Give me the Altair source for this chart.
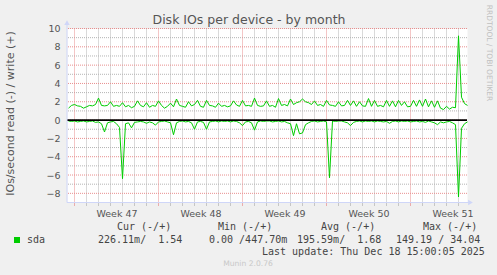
import altair as alt
import pandas as pd

# time axis: days since Sun 16 Nov 2025 00:00, one sample every 6 hours
t_days = [-0.5 + 0.25 * i for i in range(134)]

write_vals = [
    1.3, 1.6, 1.7, 1.55, 1.5, 1.3, 1.45, 1.6, 1.55, 1.7,
    2.4, 1.6, 1.55, 1.6, 2.0, 1.5, 1.6, 1.5, 1.9, 1.45,
    1.6, 1.35, 1.5, 2.1, 1.6, 1.45, 1.9, 1.4, 1.6, 1.5,
    2.1, 1.6, 1.3, 1.5, 1.85, 1.45, 2.3, 1.6, 1.5, 1.4,
    2.0, 1.55, 1.7, 2.15, 1.5, 1.4, 2.15, 1.6, 1.55, 1.4,
    1.85, 1.5, 1.6, 1.45, 1.55, 2.1, 1.65, 1.5, 2.15, 1.55,
    1.6, 1.5, 2.4, 1.6, 1.5, 1.55, 2.1, 1.5, 1.6, 1.4,
    2.35, 1.6, 1.7, 1.55, 2.3, 1.7, 1.9, 2.0, 2.3, 2.0,
    1.9, 1.7, 2.1, 1.6, 1.7, 1.5, 2.15, 1.65, 1.6, 1.5,
    2.0, 1.55, 1.6, 2.15, 1.6, 2.1, 1.5, 2.0, 1.55, 1.5,
    2.35, 1.5, 2.15, 1.5, 1.6, 1.45, 2.15, 1.5, 2.1, 1.45,
    2.15, 1.6, 2.0, 1.45, 1.5, 2.15, 1.5, 2.2, 1.5, 2.3,
    1.45, 2.1, 1.4, 2.1, 1.3, 1.15, 1.5, 1.2, 1.4, 1.35,
    9.2, 2.5, 1.8, 1.6,
]

read_vals = [
    -0.1, -0.15, -0.1, -0.2, -0.15, -0.1, -0.2, -0.15, -0.1, -0.25,
    -0.2, -0.4, -1.3, -0.3, -0.2, -0.15, -0.4, -0.8, -6.4, -0.4,
    -0.3, -0.85, -0.25, -0.2, -0.15, -0.2, -0.35, -0.2, -0.3, -0.55,
    -0.2, -0.15, -0.1, -0.2, -0.3, -1.6, -0.3, -0.15, -0.1, -0.2,
    -0.15, -0.3, -1.0, -0.2, -0.15, -0.25, -1.0, -0.2, -0.15, -0.1,
    -0.2, -0.1, -0.15, -0.1, -0.2, -0.1, -0.15, -0.3, -0.6, -0.2,
    -0.15, -0.3, -1.1, -0.2, -0.1, -0.15, -0.1, -0.1, -0.2, -0.15,
    -0.1, -0.2, -0.15, -0.3, -0.4, -1.7, -0.4, -1.5, -1.4, -0.5,
    -0.3, -0.15, -0.1, -0.2, -0.15, -0.1, -0.2, -6.3, -0.1, -0.15,
    -0.1, -0.1, -0.2, -0.3, -0.6, -0.25, -0.15, -0.1, -0.2, -0.1,
    -0.15, -0.1, -0.2, -0.1, -0.15, -0.2, -0.15, -0.35, -0.15, -0.1,
    -0.2, -0.1, -0.15, -0.1, -0.2, -0.15, -0.1, -0.2, -0.15, -0.25,
    -0.1, -0.2, -0.3, -0.5, -0.2, -0.3, -0.2, -0.15, -0.3, -0.5,
    -8.4, -0.9, -0.4, -0.2,
]

week_starts = [0, 7, 14, 21, 28]
day_lines = [d for d in range(0, 33) if d % 7 != 0]
week_label_pos = [3.5, 10.5, 17.5, 24.5, 31.5]
y_major = [-8, -6, -4, -2, 0, 2, 4, 6, 8, 10]
y_minor = [-7, -5, -3, -1, 1, 3, 5, 7, 9]

title_text = "Disk IOs per device - by month"
y_title = "IOs/second read (-) / write (+)"
side_text = "RRDTOOL / TOBI OETIKER"
series_name = "sda"
col_headers = ["Cur (-/+)", "Min (-/+)", "Avg (-/+)", "Max (-/+)"]
col_values = ["226.11m/  1.54", "0.00 /447.70m", "195.59m/  1.68", "149.19 / 34.04"]
last_update = "Last update: Thu Dec 18 15:00:05 2025"
munin_ver = "Munin 2.0.76"

X_MIN = -0.625
X_MAX = X_MIN + 400 / 12
Y_MIN, Y_MAX = -9, 10

df = pd.DataFrame({
    "t": t_days * 2,
    "v": write_vals + read_vals,
    "s": ["write"] * len(t_days) + ["read"] * len(t_days),
})

xs = alt.Scale(domain=[X_MIN, X_MAX], nice=False, zero=False)
ys = alt.Scale(domain=[Y_MIN, Y_MAX], nice=False, zero=False)

GREEN = "#00CC00"
AXISC = "#CFD6F8"
GRID = "#b4b4b4"
MGRID = "#e88e8e"
FONT = "DejaVu Sans"
MONO = "DejaVu Sans Mono"
one = pd.DataFrame({"k": [0]})

XA = alt.Axis(
    values=week_label_pos,
    labelExpr="'Week ' + (47 + round((datum.value - 3.5) / 7))",
    grid=False, ticks=False, domain=False, labelPadding=6, title=None,
    labelFont=FONT, labelFontSize=9.5, labelColor="#555555")
YA = alt.Axis(
    values=y_major, grid=False, ticks=False, domain=False, title=None,
    labelPadding=7, labelFont=FONT, labelFontSize=9.5, labelColor="#555555")

def X(field):
    return alt.X(field, scale=xs, axis=XA, title=None)

def Y(field):
    return alt.Y(field, scale=ys, axis=YA, title=None)

def XD(v):
    return alt.XDatum(v, scale=xs, axis=XA, title=None, type="quantitative")

def YD(v):
    return alt.YDatum(v, scale=ys, axis=YA, title=None, type="quantitative")

def hgrid(vals, color):
    return alt.Chart(pd.DataFrame({"y": vals})).mark_rule(
        color=color, strokeDash=[1, 1], strokeWidth=1
    ).encode(y=Y("y:Q"))

def vgrid(vals, color):
    return alt.Chart(pd.DataFrame({"x": vals})).mark_rule(
        color=color, strokeDash=[1, 1], strokeWidth=1
    ).encode(x=X("x:Q"))

def xticks(vals, color):
    return alt.Chart(pd.DataFrame({"x": vals})).mark_tick(
        orient="vertical", size=4, thickness=1, color=color, yOffset=1.5
    ).encode(x=X("x:Q"), y=YD(Y_MIN))

lines = alt.Chart(df).mark_line(color=GREEN, strokeWidth=1).encode(
    x=X("t:Q"), y=Y("v:Q"), detail="s:N", order="t:Q")

zero = alt.Chart(one).mark_rule(color="black", strokeWidth=1.6).encode(y=YD(0))

xaxis_line = alt.Chart(one).mark_rule(color=AXISC, strokeWidth=1).encode(
    x=XD(X_MIN), x2=alt.datum(33.0), y=YD(Y_MIN))
yaxis_line = alt.Chart(one).mark_rule(color=AXISC, strokeWidth=1).encode(
    x=XD(X_MIN), y=YD(Y_MIN), y2=alt.datum(10.65))
x_arrow = alt.Chart(one).mark_point(shape="triangle-right", filled=True, size=30,
                                    color=AXISC, opacity=1).encode(
    x=XD(33.0), y=YD(Y_MIN))
y_arrow = alt.Chart(one).mark_point(shape="triangle-up", filled=True, size=30,
                                    color=AXISC, opacity=1).encode(
    x=XD(X_MIN), y=YD(10.65))

def txt(s, x, y, font=FONT, size=10, color="#444444", align="left", angle=0,
        baseline="middle"):
    return alt.Chart(one).mark_text(
        text=s.replace("  ", "\u00a0\u00a0"), font=font, fontSize=size, color=color,
        align=align, baseline=baseline, angle=angle
    ).encode(x=alt.value(x), y=alt.value(y))

texts = [
    txt(title_text, 182, -4.2, size=12.5, color="#555555", baseline="alphabetic",
        align="center"),
    txt(y_title, -56, 85, size=11, color="#555555", align="center", angle=270),
    txt(side_text, 422, 24.5, size=7.5, color="#c0c0c0", align="center", angle=90),
    txt(series_name, -40, 211.5, font=MONO),
    txt(last_update, 195, 223.5, font=MONO),
    txt(munin_ver, 181, 235, size=7.6, color="#c8c8c8", align="center"),
]
for h, xh in zip(col_headers, [50, 151, 254, 356]):
    texts.append(txt(h, xh, 198.5, font=MONO))
for v, xv in zip(col_values, [31, 142, 230, 329]):
    texts.append(txt(v, xv, 211.5, font=MONO))

swatch = alt.Chart(one).mark_point(shape="square", filled=True, size=36,
                                   color=GREEN, opacity=1).encode(
    x=alt.value(-50), y=alt.value(211.5))

chart = alt.layer(
    hgrid(y_minor, GRID), vgrid(day_lines, GRID),
    hgrid(y_major, MGRID), vgrid(week_starts, MGRID),
    xticks(day_lines, GRID), xticks(week_starts, MGRID),
    lines, zero,
    xaxis_line, yaxis_line, x_arrow, y_arrow, swatch,
    *texts,
).properties(
    width=400, height=174,
    autosize=alt.AutoSizeParams(type="none"),
    padding={"left": 67, "top": 28.5, "right": 30, "bottom": 72.5},
    background="#F0F0F0",
).configure_view(fill="white", stroke="transparent")

chart.save("out.html", embed_options={"renderer": "svg", "actions": False})
